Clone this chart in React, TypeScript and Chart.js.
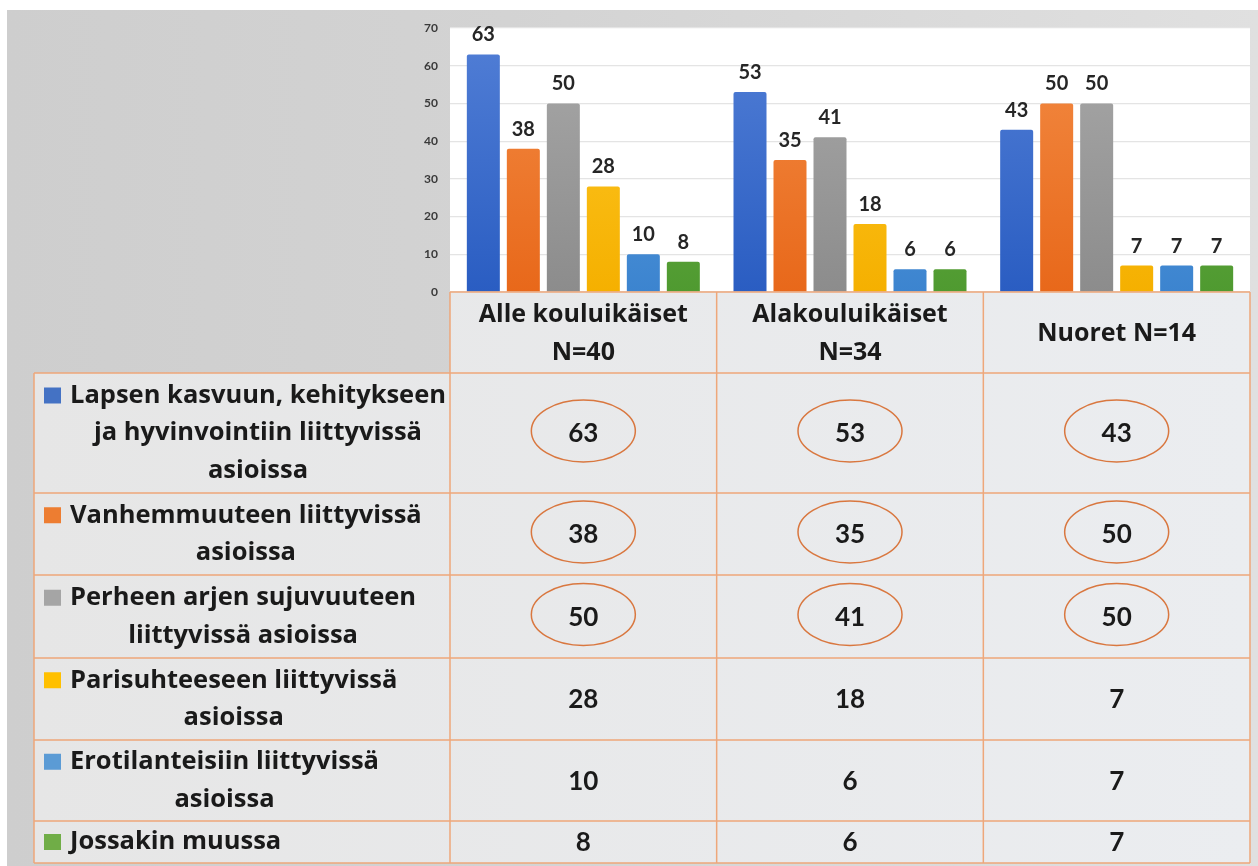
import React, { useEffect, useRef } from "react";
import { Chart, registerables } from "chart.js";

Chart.register(...registerables);

// ---------- data ----------
const categories: string[][] = [
  ["Alle kouluikäiset", "N=40"],
  ["Alakouluikäiset", "N=34"],
  ["Nuoret N=14"],
];

const seriesLabelLines: string[][] = [
  ["Lapsen kasvuun, kehitykseen", "ja hyvinvointiin liittyvissä", "asioissa"],
  ["Vanhemmuuteen liittyvissä", "asioissa"],
  ["Perheen arjen sujuvuuteen", "liittyvissä asioissa"],
  ["Parisuhteeseen liittyvissä", "asioissa"],
  ["Erotilanteisiin liittyvissä", "asioissa"],
  ["Jossakin muussa"],
];

const lapsenKasvu = [63, 53, 43];
const vanhemmuus = [38, 35, 50];
const perheenArki = [50, 41, 50];
const parisuhde = [28, 18, 7];
const erotilanteet = [10, 6, 7];
const jossakinMuussa = [8, 6, 7];

const seriesValues = [lapsenKasvu, vanhemmuus, perheenArki, parisuhde, erotilanteet, jossakinMuussa];
const circledSeries = [true, true, true, false, false, false];
const yTicks = [0, 10, 20, 30, 40, 50, 60, 70];

// ---------- styles ----------
const legendColors = ["#4472c4", "#ed7d31", "#a5a5a5", "#ffc000", "#5b9bd5", "#70ad47"];
const gradTop = ["#527fd6", "#f38c45", "#a9a9a9", "#ffca2a", "#62a3e2", "#74b24e"];
const gradBottom = ["#2a5dc2", "#e8681a", "#8c8c8c", "#f5b000", "#3c84cf", "#4f9a30"];

const W = 1258;
const H = 866;
const TABLE_LEFT = 34;
const HEADER_TOP = 292;
const ROW_EDGES = [373, 493, 575, 658, 740, 821, 863];
const BORDER = "#eea77a";

const bgPlugin = {
  id: "bgPanel",
  beforeDraw(chart: any) {
    const { ctx, chartArea } = chart;
    ctx.save();
    ctx.fillStyle = "#ffffff";
    ctx.fillRect(0, 0, W, H);
    const g = ctx.createLinearGradient(7, 0, W, 0);
    g.addColorStop(0, "#cecece");
    g.addColorStop(0.4, "#d3d3d3");
    g.addColorStop(1, "#e0e0e0");
    ctx.fillStyle = g;
    ctx.fillRect(7, 10, W - 7, H - 10);
    ctx.fillStyle = "#ffffff";
    ctx.fillRect(chartArea.left, chartArea.top, chartArea.right - chartArea.left, chartArea.bottom - chartArea.top);
    ctx.restore();
  },
};

const labelsPlugin = {
  id: "valueLabels",
  afterDatasetsDraw(chart: any) {
    const { ctx } = chart;
    ctx.save();
    ctx.font = "bold 20px Lato";
    ctx.fillStyle = "#262626";
    ctx.textAlign = "center";
    ctx.textBaseline = "alphabetic";
    chart.data.datasets.forEach((ds: any, di: number) => {
      const meta = chart.getDatasetMeta(di);
      meta.data.forEach((bar: any, i: number) => {
        ctx.fillText(String(ds.data[i]), bar.x, bar.y - 13);
      });
    });
    ctx.restore();
  },
};

const tablePlugin = {
  id: "dataTable",
  afterDraw(chart: any) {
    const { ctx, chartArea } = chart;
    const xs = chart.scales.x;
    const n = chart.data.labels.length;
    const colW = (chartArea.right - chartArea.left) / n;
    const colEdges: number[] = [];
    for (let i = 0; i <= n; i++) colEdges.push(chartArea.left + i * colW);
    const right = chartArea.right;
    ctx.save();

    // backgrounds
    const cg = ctx.createLinearGradient(TABLE_LEFT, 0, right, 0);
    cg.addColorStop(0, "#e6e6e6");
    cg.addColorStop(1, "#ebedf0");
    ctx.fillStyle = cg;
    ctx.fillRect(chartArea.left, HEADER_TOP, right - chartArea.left, ROW_EDGES[0] - HEADER_TOP);
    ctx.fillRect(TABLE_LEFT, ROW_EDGES[0], right - TABLE_LEFT, ROW_EDGES[ROW_EDGES.length - 1] - ROW_EDGES[0]);

    // borders
    ctx.strokeStyle = BORDER;
    ctx.lineWidth = 1.5;
    ctx.beginPath();
    ctx.moveTo(chartArea.left, HEADER_TOP);
    ctx.lineTo(right, HEADER_TOP);
    ROW_EDGES.forEach((y) => {
      ctx.moveTo(TABLE_LEFT, y);
      ctx.lineTo(right, y);
    });
    colEdges.forEach((x) => {
      ctx.moveTo(x, HEADER_TOP);
      ctx.lineTo(x, ROW_EDGES[ROW_EDGES.length - 1]);
    });
    ctx.moveTo(TABLE_LEFT, ROW_EDGES[0]);
    ctx.lineTo(TABLE_LEFT, ROW_EDGES[ROW_EDGES.length - 1]);
    ctx.stroke();

    // header
    ctx.fillStyle = "#1a1a1a";
    ctx.textAlign = "center";
    ctx.textBaseline = "middle";
    ctx.font = "bold 25px 'Open Sans'";
    const hMid = (HEADER_TOP + ROW_EDGES[0]) / 2 + 1;
    chart.data.labels.forEach((lab: any, i: number) => {
      const lines = Array.isArray(lab) ? lab : [lab];
      const cx = xs.getPixelForValue(i);
      lines.forEach((t: string, li: number) => {
        ctx.fillText(t, cx, hMid + (li - (lines.length - 1) / 2) * 38);
      });
    });

    // rows
    const lh = 37.5;
    chart.data.datasets.forEach((ds: any, di: number) => {
      const top = ROW_EDGES[di];
      const bot = ROW_EDGES[di + 1];
      const mid = (top + bot) / 2;
      const lines: string[] = seriesLabelLines[di];
      ctx.font = "bold 25.5px 'Open Sans'";
      ctx.fillStyle = "#1a1a1a";
      ctx.textBaseline = "middle";
      const w1 = ctx.measureText(lines[0]).width;
      const center = 70 + w1 / 2;
      lines.forEach((t, li) => {
        const y = mid + (li - (lines.length - 1) / 2) * lh;
        if (li === 0) {
          ctx.textAlign = "left";
          ctx.fillText(t, 70, y);
          ctx.fillStyle = legendColors[di];
          ctx.fillRect(44, y - 8, 17, 16);
          ctx.fillStyle = "#1a1a1a";
        } else {
          ctx.textAlign = "center";
          ctx.fillText(t, center, y);
        }
      });

      // values
      ctx.font = "bold 26px Lato";
      ctx.textAlign = "center";
      ds.data.forEach((v: number, i: number) => {
        const cx = xs.getPixelForValue(i);
        ctx.fillStyle = "#1a1a1a";
        ctx.fillText(String(v), cx, mid + 1);
        if (circledSeries[di]) {
          ctx.strokeStyle = "#d9773f";
          ctx.lineWidth = 1.5;
          ctx.beginPath();
          ctx.ellipse(cx, mid - 2, 52, 31, 0, 0, Math.PI * 2);
          ctx.stroke();
        }
      });
    });
    ctx.restore();
  },
};

export default function App() {
  const ref = useRef<HTMLCanvasElement | null>(null);

  useEffect(() => {
    if (!ref.current) return;
    const makeGrad = (di: number) => (c: any) => {
      const area = c.chart.chartArea;
      if (!area) return legendColors[di];
      const g = c.chart.ctx.createLinearGradient(0, area.top, 0, area.bottom);
      g.addColorStop(0, gradTop[di]);
      g.addColorStop(1, gradBottom[di]);
      return g;
    };
    const chart = new Chart(ref.current, {
      type: "bar",
      data: {
        labels: categories,
        datasets: seriesValues.map((vals, di) => ({
          label: seriesLabelLines[di].join(" "),
          data: vals,
          backgroundColor: makeGrad(di),
          borderWidth: 0,
          borderRadius: 2,
          categoryPercentage: 0.9,
          barPercentage: 0.825,
        })),
      },
      options: {
        animation: false,
        responsive: false,
        layout: { padding: { top: 28, left: 0, right: 8, bottom: H - 292 } },
        plugins: { legend: { display: false }, tooltip: { enabled: false } },
        scales: {
          x: { display: false },
          y: {
            min: 0,
            max: 70,
            afterBuildTicks: (s: any) => {
              s.ticks = yTicks.map((v) => ({ value: v }));
            },
            afterFit: (s: any) => {
              s.width = 450;
            },
            grid: { color: "#e4e4e4", drawTicks: false, lineWidth: 1.2 },
            border: { display: false },
            ticks: {
              padding: 12,
              color: "#3a3a3a",
              font: { family: "Lato", size: 12, weight: "bold" },
            },
          },
        },
      },
      plugins: [bgPlugin, labelsPlugin, tablePlugin],
    });
    return () => chart.destroy();
  }, []);

  return (
    <div style={{ position: "fixed", left: 0, top: 0, width: W, height: H }}>
      <canvas ref={ref} width={W} height={H} style={{ display: "block", width: W, height: H }} />
    </div>
  );
}
